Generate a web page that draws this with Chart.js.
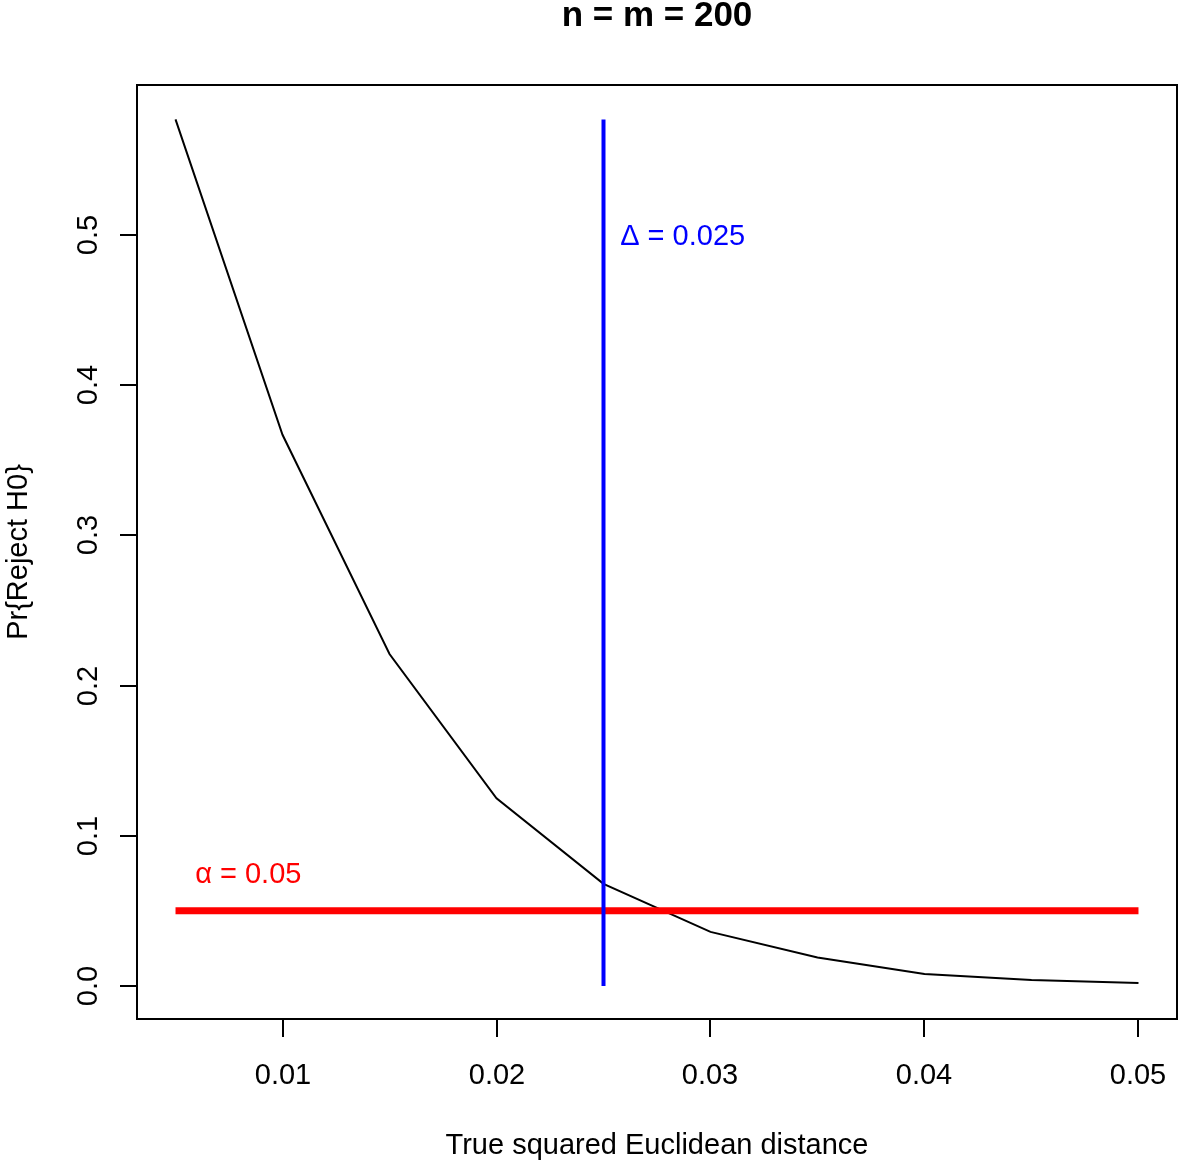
<!DOCTYPE html>
<html>
<head>
<meta charset="utf-8">
<script src="https://cdn.jsdelivr.net/npm/chart.js@4/dist/chart.umd.min.js"></script>
<style>
  body { margin: 0; background: #fff; }
  canvas { display: block; }
</style>
</head>
<body>
<canvas id="powerChart" width="1179" height="1162"></canvas>
<script>
// data
const distances = [0.005, 0.01, 0.015, 0.02, 0.025, 0.03, 0.035, 0.04, 0.045, 0.05];
const rejectProb = [0.577, 0.367, 0.221, 0.125, 0.068, 0.036, 0.019, 0.008, 0.004, 0.002];
const xTicks = [0.01, 0.02, 0.03, 0.04, 0.05];
const yTicks = [0, 0.1, 0.2, 0.3, 0.4, 0.5];
const deltaValue = 0.025;
const alphaValue = 0.05;

const FONT = '"Liberation Sans", Arial, sans-serif';
const maxProb = Math.max(...rejectProb);

// R style frame, ticks, labels and annotations
const rAxes = {
    id: 'rAxes',
    afterDraw(chart) {
        const ctx = chart.ctx;
        const a = chart.chartArea;
        const xs = chart.scales.x, ys = chart.scales.y;
        ctx.save();
        ctx.strokeStyle = '#000';
        ctx.lineWidth = 2;
        ctx.strokeRect(a.left, a.top, a.right - a.left, a.bottom - a.top);

        ctx.fillStyle = '#000';
        ctx.font = '29px ' + FONT;
        // x axis
        ctx.textAlign = 'center';
        ctx.textBaseline = 'alphabetic';
        xTicks.forEach(v => {
            const px = Math.round(xs.getPixelForValue(v));
            ctx.beginPath();
            ctx.moveTo(px, a.bottom);
            ctx.lineTo(px, a.bottom + 18);
            ctx.stroke();
            ctx.fillText(String(v), px, 1084);
        });
        // y axis
        yTicks.forEach(v => {
            const py = Math.round(ys.getPixelForValue(v));
            ctx.beginPath();
            ctx.moveTo(a.left, py);
            ctx.lineTo(a.left - 17, py);
            ctx.stroke();
            ctx.save();
            ctx.translate(97, py);
            ctx.rotate(-Math.PI / 2);
            ctx.fillText(v.toFixed(1), 0, 0);
            ctx.restore();
        });

        // axis titles
        ctx.fillText('True squared Euclidean distance', (a.left + a.right) / 2, 1154);
        ctx.save();
        ctx.translate(27, (a.top + a.bottom) / 2);
        ctx.rotate(-Math.PI / 2);
        ctx.fillText('Pr{Reject H0}', 0, 0);
        ctx.restore();

        // main title
        ctx.font = 'bold 35px ' + FONT;
        ctx.fillText('n = m = 200', (a.left + a.right) / 2, 26);

        // annotations
        ctx.font = '29px ' + FONT;
        ctx.textBaseline = 'middle';
        ctx.fillStyle = '#0000ff';
        ctx.fillText('\u0394 = 0.025', xs.getPixelForValue(0.0287), ys.getPixelForValue(0.499));
        ctx.fillStyle = '#ff0000';
        ctx.fillText('\u03b1 = 0.05', xs.getPixelForValue(0.0084), ys.getPixelForValue(0.074));
        ctx.restore();
    }
};

const ctx = document.getElementById('powerChart').getContext('2d');
const powerChart = new Chart(ctx, {
    type: 'line',
    data: {
        datasets: [{
            label: 'Power',
            data: distances.map((d, i) => ({ x: d, y: rejectProb[i] })),
            borderColor: '#000',
            borderWidth: 2,
            pointRadius: 0,
            tension: 0,
            order: 3
        }, {
            label: 'alpha',
            data: [{ x: distances[0], y: alphaValue }, { x: distances[distances.length - 1], y: alphaValue }],
            borderColor: '#ff0000',
            borderWidth: 7,
            pointRadius: 0,
            order: 2
        }, {
            label: 'delta',
            data: [{ x: deltaValue, y: 0 }, { x: deltaValue, y: maxProb }],
            borderColor: '#0000ff',
            borderWidth: 4,
            pointRadius: 0,
            order: 1
        }]
    },
    options: {
        responsive: false,
        animation: false,
        devicePixelRatio: 1,
        layout: { padding: { left: 137, right: 2, top: 85, bottom: 143 } },
        plugins: { legend: { display: false }, tooltip: { enabled: false } },
        scales: {
            x: { type: 'linear', min: 0.0032, max: 0.0518, display: false },
            y: { type: 'linear', min: -0.022, max: 0.5999, display: false }
        }
    },
    plugins: [rAxes]
});
</script>
</body>
</html>
